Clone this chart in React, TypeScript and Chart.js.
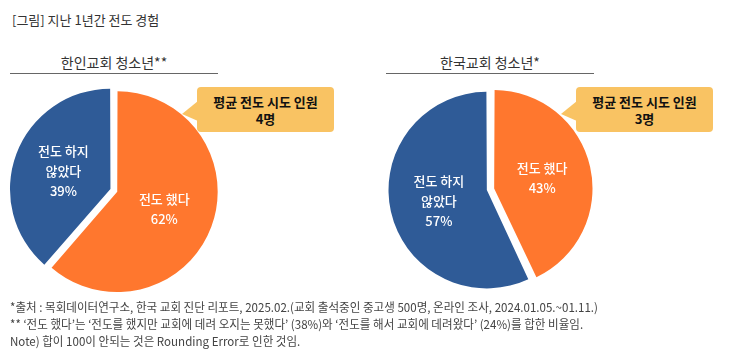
import React, { useEffect, useRef } from "react";
import { Chart, registerables } from "chart.js";

Chart.register(...registerables);

const FONT = '"Noto Sans CJK KR", "Noto Sans", sans-serif';

const figureTitle = "[그림] 지난 1년간 전도 경험";
const categoryLines = [["전도 했다"], ["전도 하지", "않았다"]];
const chartTitles = ["한인교회 청소년**", "한국교회 청소년*"];
const koreanAmericanValues = [62, 39];
const koreaValues = [43, 57];
const calloutTitle = "평균 전도 시도 인원";
const calloutValues = ["4명", "3명"];
const sliceColors = ["#FF772E", "#2F5B97"];
const footnotes = [
  "*출처 : 목회데이터연구소, 한국 교회 진단 리포트, 2025.02.(교회 출석중인 중고생 500명, 온라인 조사, 2024.01.05.~01.11.)",
  "** ‘전도 했다’는 ‘전도를 했지만 교회에 데려 오지는 못했다’ (38%)와 ‘전도를 해서 교회에 데려왔다’ (24%)를 합한 비율임.",
  "Note) 합이 100이 안되는 것은 Rounding Error로 인한 것임.",
];

const sliceLabelPlugin = {
  id: "sliceLabels",
  afterDatasetsDraw(chart: any) {
    const ctx = chart.ctx;
    const meta = chart.getDatasetMeta(0);
    const data = chart.data.datasets[0].data;
    const labels = chart.data.labels;
    meta.data.forEach((arc: any, i: number) => {
      const p = arc.getProps(["x", "y", "startAngle", "endAngle", "outerRadius", "circumference"], true);
      const t = (arc.options.offset || 0) / 4;
      const fix = 1 - Math.sin(Math.min(Math.PI, p.circumference || 0));
      const R = p.outerRadius + t * fix;
      const mid = (p.startAngle + p.endAngle) / 2;
      const d = R / 2 + t;
      const cx = p.x + Math.cos(mid) * d;
      const cy = p.y + Math.sin(mid) * d;
      const lines = [...labels[i], data[i] + "%"];
      const lh = 20;
      ctx.save();
      ctx.fillStyle = "#ffffff";
      ctx.font = `500 13px ${FONT}`;
      ctx.textAlign = "center";
      ctx.textBaseline = "middle";
      lines.forEach((s: string, k: number) => {
        ctx.fillText(s, cx, cy + (k - (lines.length - 1) / 2) * lh);
      });
      ctx.restore();
    });
  },
};

function Pie(props: {
  values: number[];
  offsets: number[];
  left: number;
  top: number;
  w: number;
  h: number;
  radius: number;
}) {
  const ref = useRef<HTMLCanvasElement>(null);
  useEffect(() => {
    const chart = new Chart(ref.current as HTMLCanvasElement, {
      type: "pie",
      data: {
        labels: categoryLines as any,
        datasets: [
          {
            data: props.values,
            backgroundColor: sliceColors,
            borderWidth: 0,
            offset: props.offsets,
          },
        ],
      },
      options: {
        responsive: false,
        animation: false,
        devicePixelRatio: 1,
        radius: props.radius,
        layout: { padding: 0 },
        plugins: { legend: { display: false }, tooltip: { enabled: false } },
      } as any,
      plugins: [sliceLabelPlugin],
    });
    return () => chart.destroy();
  }, []);
  return (
    <canvas
      ref={ref}
      width={props.w}
      height={props.h}
      style={{ position: "absolute", left: props.left, top: props.top, width: props.w, height: props.h }}
    />
  );
}

function Callout(props: { left: number; top: number; value: string }) {
  const w = 137;
  const h = 45;
  return (
    <>
      <svg
        style={{ position: "absolute", left: props.left - 15, top: props.top, overflow: "visible" }}
        width={16}
        height={h}
      >
        <polygon points={`0,27 16,14 16,34`} fill="#F9C363" />
      </svg>
      <div
        style={{
          position: "absolute",
          left: props.left,
          top: props.top,
          width: w,
          height: h,
          background: "#F9C363",
          borderRadius: 4,
          display: "flex",
          flexDirection: "column",
          alignItems: "center",
          justifyContent: "center",
          fontFamily: FONT,
          fontWeight: 700,
          fontSize: 13,
          lineHeight: "17px",
          color: "#111",
        }}
      >
        <div>{calloutTitle}</div>
        <div>{props.value}</div>
      </div>
    </>
  );
}

function ChartTitle(props: { text: string; lineLeft: number; lineWidth: number }) {
  return (
    <>
      <div
        style={{
          position: "absolute",
          left: props.lineLeft,
          width: props.lineWidth,
          top: 52,
          textAlign: "center",
          fontFamily: FONT,
          fontSize: 14,
          lineHeight: "20px",
          color: "#333",
        }}
      >
        {props.text}
      </div>
      <div
        style={{
          position: "absolute",
          left: props.lineLeft,
          width: props.lineWidth,
          top: 73,
          height: 1,
          background: "#666",
        }}
      />
    </>
  );
}

export default function App() {
  return (
    <div
      style={{
        position: "fixed",
        left: 0,
        top: 0,
        width: 734,
        height: 358,
        background: "#fff",
        overflow: "hidden",
      }}
    >
      <div
        style={{
          position: "absolute",
          left: 12,
          top: 10,
          fontFamily: FONT,
          fontSize: 13,
          lineHeight: "20px",
          color: "#333",
        }}
      >
        {figureTitle}
      </div>

      <ChartTitle text={chartTitles[0]} lineLeft={10} lineWidth={208} />
      <ChartTitle text={chartTitles[1]} lineLeft={386} lineWidth={208} />

      <Pie values={koreanAmericanValues} offsets={[7.4, 21.6]} left={0} top={81} w={231} h={220} radius={98.6} />
      <Pie values={koreaValues} offsets={[19.1, 10.9]} left={379} top={79} w={221} h={221} radius={95.6} />

      <Callout left={197} top={87} value={calloutValues[0]} />
      <Callout left={576} top={87} value={calloutValues[1]} />

      <div
        style={{
          position: "absolute",
          left: 10,
          top: 298,
          fontFamily: FONT,
          fontSize: 12,
          lineHeight: "17px",
          color: "#444",
          whiteSpace: "nowrap",
          transform: "scaleX(0.963)",
          transformOrigin: "left top",
        }}
      >
        {footnotes.map((t, i) => (
          <div key={i}>{t}</div>
        ))}
      </div>
    </div>
  );
}
